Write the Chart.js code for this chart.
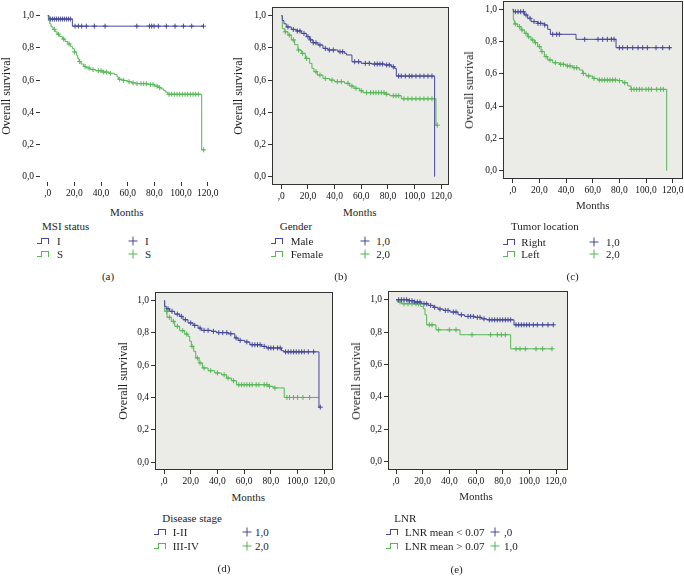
<!DOCTYPE html>
<html lang="en">
<head>
<meta charset="UTF-8">
<title>Overall survival – Kaplan-Meier</title>
<script src="https://cdn.jsdelivr.net/npm/chart.js"></script>
<style>
  body {
    margin: 0;
    width: 684px;
    height: 583px;
    overflow: hidden;
    position: relative;
    background: #fff;
    font-family: "Liberation Serif", "Times New Roman", Tinos, "Noto Serif", serif;
    color: #1e1e1e;
  }
  canvas { position: absolute; }
  .t { position: absolute; font-size: 11px; line-height: 1; white-space: nowrap; }
  .c { transform: translate(-50%, -50%); }
  .l { transform: translateY(-50%); }
  .v { transform: translate(-50%, -50%) rotate(-90deg); font-size: 12px; }
  .step { position: absolute; width: 13px; height: 6px; transform: translateY(-50%); }
  .step:before { content: ''; position: absolute; left: 0; bottom: 0; width: 4px; border-bottom: 1px solid; }
  .step:after { content: ''; position: absolute; left: 4px; top: 0; width: 6px; height: 5px; border: 1px solid; border-bottom: none; }
  .plus { position: absolute; width: 9px; height: 9px; transform: translate(-50%, -50%); }
  .plus:before { content: ''; position: absolute; left: 0; top: 4px; width: 9px; border-top: 1px solid; }
  .plus:after { content: ''; position: absolute; left: 4px; top: 0; height: 9px; border-left: 1px solid; }
</style>
</head>
<body>
<script>
  const BLUE = '#45479a';
  const GREEN = '#57b657';

  // axis ticks
  const xTickValues = [0, 20, 40, 60, 80, 100, 120];
  const xTickLabels = [',0', '20,0', '40,0', '60,0', '80,0', '100,0', '120,0'];
  const yTickValues = [0, 0.2, 0.4, 0.6, 0.8, 1.0];
  const yTickLabels = ['0,0', '0,2', '0,4', '0,6', '0,8', '1,0'];

  // (a) MSI status
  const aITime = [0, 1, 18.5, 117];
  const aISurv = [1, 0.979, 0.935, 0.935];
  const aICens = [2, 3.5, 5, 6.5, 8, 9.5, 11, 12.5, 14, 15.5, 17, 20.5, 23, 25.5, 29, 35, 43, 66.8, 76.3, 78, 79.8, 83, 89, 95.5, 101.8, 108, 116.8];
  const aSTime = [0, 0.5, 1.5, 2.5, 4, 5.5, 7, 9, 11, 13, 15, 17, 18.5, 20, 21.5, 22.5, 23.5, 25, 27, 29, 32, 36, 41, 46, 50, 52, 53, 56, 60, 63, 66, 75, 80, 83, 85, 87, 88.5, 90, 115.5, 117];
  const aSSurv = [1, 0.97, 0.95, 0.93, 0.915, 0.9, 0.885, 0.87, 0.855, 0.84, 0.825, 0.81, 0.795, 0.775, 0.755, 0.735, 0.715, 0.7, 0.685, 0.675, 0.665, 0.658, 0.65, 0.642, 0.635, 0.62, 0.605, 0.598, 0.59, 0.583, 0.578, 0.573, 0.563, 0.553, 0.545, 0.535, 0.525, 0.512, 0.167, 0.167];
  const aSCens = [5, 8, 12, 16, 20, 24, 28, 31, 34, 38, 40, 42, 44, 47, 54, 57, 61, 64, 67, 70, 72, 74, 77, 79, 82, 84, 91, 93, 95, 97, 99, 101, 103, 105, 107, 109, 111, 113, 117];

  // (b) Gender
  const bMaleTime = [0, 0.75, 2, 3.75, 7.5, 11.25, 15, 18.75, 21.25, 23.75, 27.5, 31.25, 35, 42.5, 47.5, 49, 53, 60, 67.5, 77.5, 82.5, 85, 86.25, 115];
  const bMaleSurv = [1, 0.97, 0.95, 0.93, 0.915, 0.905, 0.89, 0.87, 0.85, 0.832, 0.818, 0.797, 0.787, 0.776, 0.766, 0.756, 0.714, 0.704, 0.7, 0.694, 0.683, 0.673, 0.625, 0];
  const bMaleCens = [5, 9, 12, 14, 17, 20, 22, 24, 26, 29, 33, 36, 39, 44, 46, 55, 58, 63, 66, 70, 72, 74, 76, 79, 81, 84, 88, 90, 93, 96, 98, 101, 104, 107, 110, 113];
  const bFemTime = [0, 0.75, 2.5, 5, 7.5, 10, 12.5, 15, 18, 21.25, 23, 24.5, 27, 31.25, 36.25, 40, 47.5, 51.25, 54.5, 58.75, 61.25, 77.5, 81.25, 90, 116, 117];
  const bFemSurv = [1, 0.92, 0.9, 0.88, 0.85, 0.82, 0.787, 0.766, 0.735, 0.704, 0.673, 0.652, 0.631, 0.61, 0.6, 0.59, 0.58, 0.563, 0.549, 0.534, 0.522, 0.513, 0.503, 0.484, 0.32, 0.32];
  const bFemCens = [3, 6, 9, 13, 16, 19, 26, 29, 33, 38, 42, 45, 50, 53, 56, 60, 64, 67, 69, 71, 73, 75, 77, 79, 84, 86, 88, 92, 95, 98, 101, 104, 107, 110, 113, 117];

  // (c) Tumor location
  const cRightTime = [0, 0.5, 8.75, 11.25, 13.75, 18.75, 23.75, 26.25, 28.25, 47.5, 77.5, 119];
  const cRightSurv = [1, 0.985, 0.965, 0.944, 0.924, 0.913, 0.903, 0.876, 0.845, 0.814, 0.762, 0.762];
  const cRightCens = [2, 4, 6, 8, 10, 13, 16, 19, 21, 24, 30, 33, 35, 54, 64, 67.5, 71, 74, 76, 80, 82.5, 86, 90, 94, 97.5, 101, 107.5, 112.5, 117.5];
  const cLeftTime = [0, 0.5, 1.25, 3.75, 6.25, 8.75, 11.25, 13.75, 16.25, 18.75, 21.25, 23.75, 26.25, 30, 35, 40, 45, 50, 52.5, 55, 60, 63.75, 78.75, 82.5, 86.25, 88.75, 115.5];
  const cLeftSurv = [1, 0.934, 0.909, 0.893, 0.872, 0.851, 0.83, 0.81, 0.793, 0.769, 0.738, 0.707, 0.686, 0.669, 0.659, 0.649, 0.638, 0.624, 0.603, 0.587, 0.572, 0.562, 0.558, 0.545, 0.525, 0.504, 0];
  const cLeftCens = [2, 5, 7, 10, 12, 15, 17, 20, 22, 25, 28, 32, 36, 38, 41, 43, 46, 48, 53, 57, 61, 65, 67, 69, 71, 73, 75, 77, 80, 84, 89, 91, 93, 95, 97, 100, 102, 104, 108, 111, 113];

  // (d) Disease stage
  const dEarlyTime = [0, 0.5, 1.75, 4.25, 8, 11.75, 14.25, 18, 21.75, 25.5, 28, 35.5, 39.25, 48, 53, 55.5, 60.5, 64.25, 73, 76.75, 88, 89.75, 116, 117];
  const dEarlySurv = [1, 0.965, 0.95, 0.934, 0.917, 0.903, 0.882, 0.862, 0.847, 0.83, 0.816, 0.81, 0.802, 0.795, 0.769, 0.754, 0.744, 0.727, 0.717, 0.707, 0.69, 0.683, 0.34, 0.34];
  const dEarlyCens = [3, 6, 10, 13, 16, 20, 23, 27, 30, 33, 37, 41, 44, 47, 50, 54, 57, 62, 66, 68, 70, 72, 75, 78, 80, 82, 85, 87, 91, 93, 95, 97, 99, 101, 103, 105, 108, 112, 117];
  const dLateTime = [0, 0.5, 2.25, 5.5, 8, 11.75, 15.5, 18, 19.25, 20.5, 22.25, 23.75, 26.25, 28.75, 33, 38, 43, 46.75, 50.5, 54.25, 78, 81.75, 90, 116];
  const dLateSurv = [1, 0.934, 0.897, 0.872, 0.841, 0.814, 0.793, 0.779, 0.748, 0.717, 0.686, 0.645, 0.614, 0.583, 0.566, 0.552, 0.541, 0.52, 0.504, 0.479, 0.469, 0.459, 0.4, 0.4];
  const dLateCens = [2, 4, 7, 10, 14, 17, 21, 25, 27, 30, 35, 40, 45, 48, 52, 56, 58, 60, 62, 64, 66, 69, 71, 75, 77, 79, 83, 92, 94, 97, 100, 104, 109];

  // (e) LNR
  const eLowTime = [0, 9, 14, 19, 24, 28, 31.5, 35.5, 40.5, 46.5, 51.5, 59, 64, 68, 88.5, 118];
  const eLowSurv = [1, 0.994, 0.986, 0.975, 0.965, 0.953, 0.942, 0.934, 0.924, 0.907, 0.897, 0.891, 0.882, 0.876, 0.845, 0.845];
  const eLowCens = [2, 4, 6, 8, 10, 12, 14, 16, 18, 21, 23, 26, 29, 33, 37, 39, 43, 45, 49, 54, 56, 58, 61, 63, 66, 70, 72, 74, 76, 78, 80, 82, 84, 86, 90, 92, 94, 96, 98, 100, 103, 106, 110, 114, 118];
  const eHighTime = [0, 1, 4.25, 18.5, 20.5, 21.75, 23, 30, 48, 86, 117];
  const eHighSurv = [1, 0.986, 0.975, 0.959, 0.944, 0.907, 0.845, 0.814, 0.784, 0.697, 0.697];
  const eHighCens = [3, 6, 9, 12, 15, 17, 25, 27, 32, 40, 45, 57, 71, 76, 79, 82, 90, 93, 97, 105, 110, 117];

  // legend texts
  const legendTitles = ['MSI status', 'Gender', 'Tumor location', 'Disease stage', 'LNR'];
  const groupNames = [['I', 'S'], ['Male', 'Female'], ['Right', 'Left'], ['I-II', 'III-IV'], ['LNR mean < 0.07', 'LNR mean > 0.07']];
  const censNames = [['I', 'S'], ['1,0', '2,0'], ['1,0', '2,0'], ['1,0', '2,0'], [',0', '1,0']];
  const captions = ['(a)', '(b)', '(c)', '(d)', '(e)'];

  // value of the step curve at time t
  function survAt(times, surv, t) {
    let s = surv[0];
    for (let i = 0; i < times.length; i++) if (times[i] <= t) s = surv[i];
    return s;
  }

  const framePlugin = {
    id: 'frame',
    beforeDatasetsDraw(chart, args, opts) {
      if (!opts.framed) return;
      const a = chart.chartArea, ctx = chart.ctx;
      ctx.save();
      ctx.fillStyle = '#ebebe7';
      ctx.fillRect(a.left, a.top, a.right - a.left, a.bottom - a.top);
      ctx.strokeStyle = '#333';
      ctx.lineWidth = 1;
      ctx.strokeRect(Math.round(a.left) + 0.5, Math.round(a.top) + 0.5,
        Math.round(a.right - a.left) - 1, Math.round(a.bottom - a.top) - 1);
      ctx.restore();
    }
  };

  const panels = [
    { box: { l: 40, r: 213, t: 7, b: 182 }, x0: 47.7, x120: 207.7, y1: 15.7, y0: 176.7, framed: false,
      groups: [[aITime, aISurv, aICens], [aSTime, aSSurv, aSCens]],
      ytitle: [6, 96], months: [126.7, 212], leg: { title: [42, 226], rows: [240.7, 254], icon: 37, label: 57, plus: 133, plabel: 145 }, cap: [108, 276] },
    { box: { l: 272, r: 449, t: 7, b: 185 }, x0: 281.3, x120: 441.3, y1: 15.7, y0: 176.7, framed: true,
      groups: [[bMaleTime, bMaleSurv, bMaleCens], [bFemTime, bFemSurv, bFemCens]],
      ytitle: [238, 96], months: [359.7, 212], leg: { title: [279.7, 226], rows: [240.7, 254], icon: 271.3, label: 290.7, plus: 364.7, plabel: 376.3 }, cap: [340.7, 276] },
    { box: { l: 503, r: 683, t: 1, b: 179 }, x0: 512.7, x120: 672.7, y1: 9.3, y0: 170.7, framed: true,
      groups: [[cRightTime, cRightSurv, cRightCens], [cLeftTime, cLeftSurv, cLeftCens]],
      ytitle: [469, 90], months: [592.7, 205], leg: { title: [511, 226], rows: [241.5, 254], icon: 502.7, label: 521.3, plus: 593.7, plabel: 606 }, cap: [572.7, 276] },
    { box: { l: 155, r: 333, t: 292, b: 470 }, x0: 164, x120: 324.3, y1: 300.7, y0: 462, framed: true,
      groups: [[dEarlyTime, dEarlySurv, dEarlyCens], [dLateTime, dLateSurv, dLateCens]],
      ytitle: [123, 381], months: [248.3, 496.7], leg: { title: [162.3, 517.7], rows: [532.3, 546], icon: 154, label: 172.7, plus: 246.7, plabel: 255 }, cap: [224, 568.3] },
    { box: { l: 388, r: 568, t: 291, b: 469.5 }, x0: 396, x120: 556, y1: 299.7, y0: 461.3, framed: true,
      groups: [[eLowTime, eLowSurv, eLowCens], [eHighTime, eHighSurv, eHighCens]],
      ytitle: [356, 381], months: [476, 496], leg: { title: [394.3, 518.3], rows: [532.3, 546], icon: 386, label: 405, plus: 495, plabel: 504 }, cap: [456.7, 569] }
  ];

  function addText(txt, x, y, cls, color) {
    const d = document.createElement('div');
    d.className = 't ' + cls;
    d.textContent = txt;
    d.style.left = x + 'px';
    d.style.top = y + 'px';
    if (color) d.style.color = color;
    document.body.appendChild(d);
    return d;
  }

  function addMark(cls, x, y, color) {
    const d = document.createElement('div');
    d.className = cls;
    d.style.left = x + 'px';
    d.style.top = y + 'px';
    d.style.color = color;
    document.body.appendChild(d);
  }

  function makePanel(p, k) {
    const YW = 32, XH = 20, PT = 8, PR = 18;
    const b = p.box;
    const cv = document.createElement('canvas');
    cv.width = Math.round(b.r - b.l + YW + PR);
    cv.height = Math.round(b.b - b.t + PT + XH);
    cv.style.left = (b.l - YW) + 'px';
    cv.style.top = (b.t - PT) + 'px';
    document.body.appendChild(cv);

    const pxM = (p.x120 - p.x0) / 120;
    const pxU = p.y0 - p.y1;
    const colors = [BLUE, GREEN];
    const datasets = [];
    p.groups.forEach(([times, surv, cens], g) => {
      datasets.push({
        type: 'line',
        data: times.map((t, i) => ({ x: t, y: surv[i] })),
        borderColor: colors[g],
        borderWidth: 1,
        stepped: 'before',
        pointRadius: 0,
        fill: false
      });
      datasets.push({
        type: 'scatter',
        data: cens.map(t => ({ x: t, y: survAt(times, surv, t) })),
        borderColor: colors[g],
        backgroundColor: colors[g],
        pointStyle: 'cross',
        pointRadius: 2.5,
        borderWidth: 1
      });
    });

    const tickFont = { family: '"Liberation Serif", "Times New Roman", Tinos, serif', size: 9.5 };
    new Chart(cv, {
      data: { datasets: datasets },
      options: {
        responsive: false,
        animation: false,
        devicePixelRatio: 1,
        layout: { padding: { top: PT, right: PR, left: 0, bottom: 0 } },
        plugins: { legend: { display: false }, tooltip: { enabled: false }, frame: { framed: p.framed } },
        scales: {
          x: {
            type: 'linear',
            min: (b.l - p.x0) / pxM,
            max: (b.r - p.x0) / pxM,
            afterBuildTicks: s => { s.ticks = xTickValues.map(v => ({ value: v })); },
            afterFit: s => { s.height = XH; },
            ticks: {
              autoSkip: false, maxRotation: 0, padding: 2, color: '#111', font: tickFont,
              callback: v => xTickLabels[xTickValues.indexOf(v)]
            },
            grid: { drawOnChartArea: false, tickLength: 4, color: '#333' },
            border: { display: false }
          },
          y: {
            type: 'linear',
            min: -(b.b - p.y0) / pxU,
            max: (p.y0 - b.t) / pxU,
            afterBuildTicks: s => { s.ticks = yTickValues.map(v => ({ value: v })); },
            afterFit: s => { s.width = YW; },
            ticks: {
              padding: 2, color: '#111', font: tickFont,
              callback: v => yTickLabels[yTickValues.indexOf(v)]
            },
            grid: { drawOnChartArea: false, tickLength: 4, color: '#333' },
            border: { display: false }
          }
        }
      },
      plugins: [framePlugin]
    });

    // axis titles, legend and caption
    addText('Overall survival', p.ytitle[0], p.ytitle[1], 'v');
    addText('Months', p.months[0], p.months[1], 'c');
    const L = p.leg;
    addText(legendTitles[k], L.title[0], L.title[1], 'l');
    L.rows.forEach((y, g) => {
      addMark('step', L.icon, y, colors[g]);
      addText(groupNames[k][g], L.label, y, 'l');
      addMark('plus', L.plus, y, colors[g]);
      addText(censNames[k][g], L.plabel, y, 'l');
    });
    addText(captions[k], p.cap[0], p.cap[1], 'c');
  }

  panels.forEach(makePanel);
</script>
</body>
</html>
